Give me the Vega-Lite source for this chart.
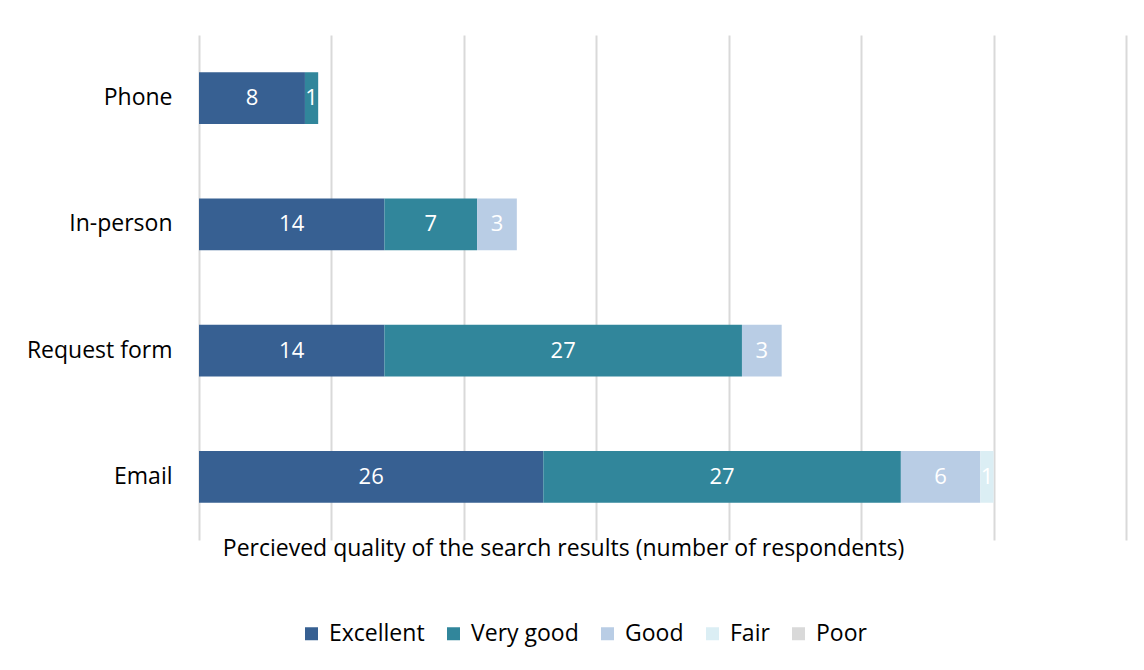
{
  "$schema": "https://vega.github.io/schema/vega-lite/v6.json",
  "width": 927,
  "height": 505,
  "autosize": "none",
  "padding": {"left": 199, "top": 35, "right": 18, "bottom": 130},
  "background": "white",
  "config": {"view": {"stroke": null}, "font": "Open Sans"},
  "data": {
    "values": [
      {"channel": "Phone", "rating": "Excellent", "count": 8},
      {"channel": "Phone", "rating": "Very good", "count": 1},
      {"channel": "In-person", "rating": "Excellent", "count": 14},
      {"channel": "In-person", "rating": "Very good", "count": 7},
      {"channel": "In-person", "rating": "Good", "count": 3},
      {"channel": "Request form", "rating": "Excellent", "count": 14},
      {"channel": "Request form", "rating": "Very good", "count": 27},
      {"channel": "Request form", "rating": "Good", "count": 3},
      {"channel": "Email", "rating": "Excellent", "count": 26},
      {"channel": "Email", "rating": "Very good", "count": 27},
      {"channel": "Email", "rating": "Good", "count": 6},
      {"channel": "Email", "rating": "Fair", "count": 1}
    ]
  },
  "transform": [
    {"calculate": "indexof(['Excellent','Very good','Good','Fair','Poor'], datum.rating)", "as": "rank"},
    {"stack": "count", "groupby": ["channel"], "sort": [{"field": "rank", "order": "ascending"}], "as": ["x0", "x1"]},
    {"calculate": "(datum.x0 + datum.x1) / 2", "as": "xm"}
  ],
  "encoding": {
    "y": {
      "field": "channel",
      "type": "nominal",
      "sort": ["Phone", "In-person", "Request form", "Email"],
      "scale": {"paddingInner": 0.59, "paddingOuter": 0.295},
      "axis": {
        "title": null,
        "domain": false,
        "ticks": false,
        "grid": false,
        "labelFontSize": 23,
        "labelColor": "#000000",
        "labelPadding": 27
      }
    }
  },
  "layer": [
    {
      "mark": {"type": "bar"},
      "encoding": {
        "x": {
          "field": "x0",
          "type": "quantitative",
          "scale": {"domain": [0, 70], "nice": false},
          "axis": {
            "values": [0, 10, 20, 30, 40, 50, 60, 70],
            "grid": true,
            "gridColor": "#D9D9D9",
            "gridWidth": 2,
            "domain": false,
            "ticks": false,
            "labels": false,
            "title": "Percieved quality of the search results (number of respondents)",
            "titleFontSize": 23,
            "titleFontWeight": "normal",
            "titleColor": "#000000",
            "titleX": 364,
            "titleY": 8,
            "titleBaseline": "middle",
            "titleAlign": "center"
          }
        },
        "x2": {"field": "x1"},
        "color": {
          "field": "rating",
          "type": "nominal",
          "scale": {
            "domain": ["Excellent", "Very good", "Good", "Fair", "Poor"],
            "range": ["#376092", "#31869B", "#B9CDE5", "#DBEEF4", "#D9D9D9"]
          },
          "legend": {
            "title": null,
            "orient": "none",
            "direction": "horizontal",
            "legendX": 101,
            "legendY": 587,
            "symbolType": "square",
            "symbolSize": 169,
            "symbolStrokeWidth": 0,
            "labelFontSize": 23,
            "labelColor": "#000000",
            "labelOffset": 6,
            "columnPadding": 17
          }
        }
      }
    },
    {
      "mark": {"type": "text", "color": "white", "fontSize": 22},
      "encoding": {
        "x": {"field": "xm", "type": "quantitative"},
        "text": {"field": "count", "type": "quantitative"}
      }
    }
  ]
}
